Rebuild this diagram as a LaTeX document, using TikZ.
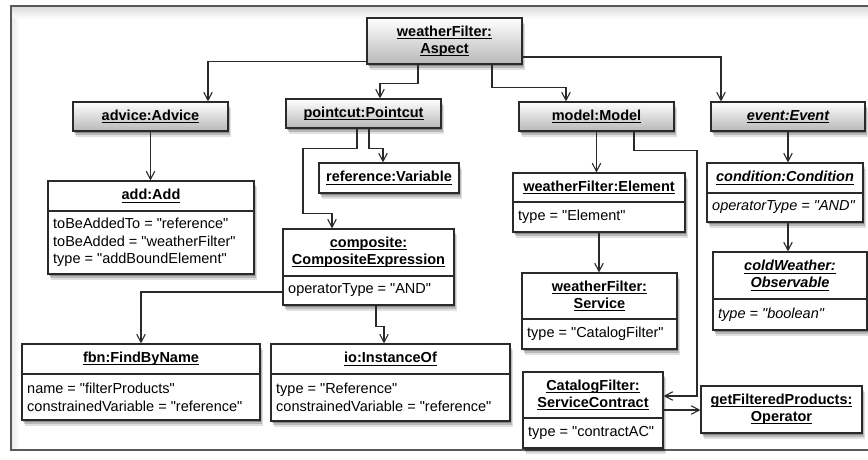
\documentclass[tikz,border=0pt]{standalone}
\usepackage{fontspec}
\setmainfont{Liberation Sans}[Ligatures=TeXOff]
\usetikzlibrary{arrows.meta,shadows,calc}
\definecolor{edge}{HTML}{2A2A2A}
\newcommand\myul[1]{\setbox0\hbox{#1}\rlap{\rule[-2.6pt]{\wd0}{0.9pt}}\box0}
\tikzset{
  obj/.style={draw=edge, line width=1.2pt, fill=white, inner sep=0pt,
    preaction={fill=black, opacity=0.12, transform canvas={xshift=3pt, yshift=-6pt}},
    preaction={fill=black, opacity=0.18, transform canvas={xshift=2pt, yshift=-4pt}},
    preaction={fill=black, opacity=0.25, transform canvas={xshift=1pt, yshift=-2pt}}},
  grad/.style={obj, top color=white, bottom color=black!28},
  hdr/.style={font=\fontsize{14.5}{17}\selectfont\bfseries, align=center, inner sep=0pt},
  body/.style={font=\fontsize{14.5}{17.7}\selectfont, align=left, inner sep=0pt, anchor=west},
  conn/.style={draw=edge, line width=1.1pt, -{Straight Barb[length=8pt,width=8.5pt]}},
  divline/.style={draw=edge, line width=1.1pt}
}
\begin{document}
\begin{tikzpicture}[x=1pt,y=-1pt]
\useasboundingbox (0,0) rectangle (868,460);
% frame
\shade[top color=black!14, bottom color=white] (11.75,6.75) rectangle (880,19);
\shade[left color=black!8, right color=white] (11.75,19) rectangle (19,449);
\draw[line width=1.5pt, draw=black!65] (11,6) rectangle (880,450);

% simple boxes
\node[grad, hdr, minimum width=155pt, minimum height=46pt] (aspect) at (444.5,41) {\myul{weatherFilter:}\\\myul{Aspect}};
\node[grad, hdr, minimum width=155pt, minimum height=29pt] (advice) at (150.5,116.5) {\myul{advice:Advice}};
\node[grad, hdr, minimum width=155pt, minimum height=29pt] (pointcut) at (363.5,113.5) {\myul{pointcut:Pointcut}};
\node[grad, hdr, minimum width=155pt, minimum height=29pt] (model) at (596.5,116.5) {\myul{model:Model}};
\node[grad, hdr, minimum width=154pt, minimum height=29pt] (event) at (788,116.5) {\itshape\myul{event:Event}};
\node[obj, hdr, minimum width=140pt, minimum height=30pt] (reference) at (389,178) {\myul{reference:Variable}};
\node[obj, hdr, minimum width=161pt, minimum height=47pt] (getop) at (781.5,409.5) {\myul{getFilteredProducts:}\\\myul{Operator}};

% add:Add
\node[obj, minimum width=206pt, minimum height=93pt] (add) at (151,227.5) {};
\node[hdr] (addT) at (151,196) {\myul{add:Add}};
\draw[divline] (48,211) -- (254,211);
\node[body] (addB) at (53,242.5) {toBeAddedTo = "reference"\\toBeAdded = "weatherFilter"\\type = "addBoundElement"};

% composite
\node[obj, minimum width=171pt, minimum height=76pt] (composite) at (368.5,267) {};
\node[hdr] (compT) at (368.5,252.5) {\myul{composite:}\\\myul{CompositeExpression}};
\draw[divline] (283,276) -- (454,276);
\node[body] (compB) at (288,290.5) {operatorType = "AND"};

% element
\node[obj, minimum width=172pt, minimum height=59pt] (element) at (599,202.5) {};
\node[hdr] (elemT) at (599,187.5) {\myul{weatherFilter:Element}};
\draw[divline] (513,202) -- (685,202);
\node[body] (elemB) at (518,217) {type = "Element"};

% service
\node[obj, minimum width=155pt, minimum height=76pt] (service) at (599.5,311) {};
\node[hdr] (servT) at (599.5,296) {\myul{weatherFilter:}\\\myul{Service}};
\draw[divline] (522,319) -- (677,319);
\node[body] (servB) at (527,334) {type = "CatalogFilter"};

% contract
\node[obj, minimum width=140pt, minimum height=76pt] (contract) at (593,410) {};
\node[hdr] (contT) at (593,395) {\myul{CatalogFilter:}\\\myul{ServiceContract}};
\draw[divline] (523,418) -- (663,418);
\node[body] (contB) at (528,433) {type = "contractAC"};

% condition
\node[obj, minimum width=156pt, minimum height=59pt] (condition) at (785,192.5) {};
\node[hdr] (condT) at (785,178) {\itshape\myul{condition:Condition}};
\draw[divline] (707,193) -- (863,193);
\node[body] (condB) at (712,207.5) {\itshape operatorType = "AND"};

% coldWeather
\node[obj, minimum width=154pt, minimum height=78pt] (cold) at (790,291) {};
\node[hdr] (coldT) at (790,275.5) {\itshape\myul{coldWeather:}\\\itshape\myul{Observable}};
\draw[divline] (713,299) -- (867,299);
\node[body] (coldB) at (718,314.5) {\itshape type = "boolean"};

% fbn
\node[obj, minimum width=238pt, minimum height=76pt] (fbn) at (141,382) {};
\node[hdr] (fbnT) at (141,359) {\myul{fbn:FindByName}};
\draw[divline] (22,374) -- (260,374);
\node[body] (fbnB) at (27,397) {name = "filterProducts"\\constrainedVariable = "reference"};

% io
\node[obj, minimum width=239pt, minimum height=77pt] (io) at (390.5,382.5) {};
\node[hdr] (ioT) at (390.5,359) {\myul{io:InstanceOf}};
\draw[divline] (271,374) -- (510,374);
\node[body] (ioB) at (276,397.5) {type = "Reference"\\constrainedVariable = "reference"};

% connectors
\draw[conn] ([yshift=3pt]aspect.south west) -| ([xshift=57.5pt]advice.north);
\draw[conn] ([xshift=-26.5pt]aspect.south) -- ++(0,19) -| ([xshift=16.5pt]pointcut.north);
\draw[conn] ([xshift=47.5pt]aspect.south) -- ++(0,23) -| ([xshift=-30.5pt]model.north);
\draw[conn] ([yshift=-16pt]aspect.east) -| ([xshift=-67pt]event.north);
\draw[conn] (advice.south) -- (advice.south |- add.north);
\draw[conn] ([xshift=5.5pt]pointcut.south) -- ++(0,20) -| ([xshift=-6pt]reference.north);
\draw[conn] ([xshift=-6.5pt]pointcut.south) -- ++(0,20) -| ++(-54,65) -| ([xshift=-36.5pt]composite.north);
\draw[conn] ([yshift=-25pt]composite.west) -| (fbn.north);
\draw[conn] ([xshift=7.5pt]composite.south) -- ++(0,21) -| ([xshift=-6.5pt]io.north);
\draw[conn] (model.south) -- (model.south |- element.north);
\draw[conn] ([xshift=37.5pt]model.south) -- ++(0,19) -- ++(63,0) |- ([yshift=14pt]contract.east);
\draw[conn] (element.south) -- (element.south |- service.north);
\draw[conn] (contract.east) -- (contract.east -| getop.west);
\draw[conn] (event.south) -- (event.south |- condition.north);
\draw[conn] ([xshift=3pt]condition.south) -- ([xshift=3pt]condition.south |- cold.north);
\end{tikzpicture}
\end{document}
